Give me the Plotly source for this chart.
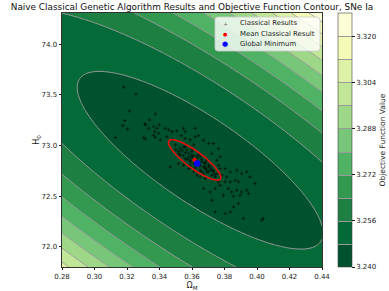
import numpy as np
import plotly.graph_objects as go

# ---------------- values ----------------
# objective function surface (quadratic model fitted to the drawn contours)
obj_min_value = 3.2438
obj_center_om = 0.3650
obj_center_h0 = 72.855
coef_om_om = 2.2424
coef_om_h0 = 0.31688
coef_h0_h0 = 0.016644

om_range = [0.28, 0.44]
h0_range = [71.80, 74.31]

level_start = 3.248
level_end = 3.320
level_step = 0.008
cbar_range = [3.240, 3.328]
cbar_ticks = [3.240, 3.256, 3.272, 3.288, 3.304, 3.320]
x_ticks = [0.28, 0.30, 0.32, 0.34, 0.36, 0.38, 0.40, 0.42, 0.44]
y_ticks = [72.0, 72.5, 73.0, 73.5, 74.0]

# classical GA results (one point per run)
classical_om = [
    0.3180, 0.3255, 0.3215, 0.3374, 0.3186, 0.3174, 0.3204, 0.3309, 0.3339, 0.3315,
    0.3333, 0.3364, 0.3384, 0.3399, 0.3370, 0.3395, 0.3436, 0.3456, 0.3477, 0.3507,
    0.3548, 0.3558, 0.3620, 0.3129, 0.3313, 0.3374, 0.3405, 0.3446, 0.3477, 0.3534,
    0.3558, 0.3589, 0.3620, 0.3640, 0.3303, 0.3364, 0.3497, 0.3528, 0.3558, 0.3518,
    0.3569, 0.3610,
    0.3548, 0.3579, 0.3599, 0.3528, 0.3558, 0.3589, 0.3630, 0.3650, 0.3661, 0.3681,
    0.3691, 0.3640, 0.3671, 0.3702, 0.3712, 0.3732, 0.3691, 0.3722, 0.3743, 0.3753,
    0.3610, 0.3589, 0.3650, 0.3681,
    0.3671, 0.3702, 0.3732, 0.3763, 0.3722, 0.3773, 0.3753, 0.3763, 0.3804, 0.3773,
    0.3650, 0.3681, 0.3630, 0.3610, 0.3579, 0.3548, 0.3517, 0.3466,
    0.3784, 0.3814, 0.3835, 0.3876, 0.3906, 0.3937, 0.3804, 0.3835, 0.3865, 0.3886,
    0.3957, 0.3773, 0.3824, 0.3876, 0.3906, 0.3845, 0.3743, 0.3712, 0.3671, 0.3794,
    0.3855, 0.3896, 0.3937, 0.3722, 0.3763,
    0.3988, 0.3947, 0.4029, 0.4039, 0.3916, 0.3835, 0.3743, 0.3804, 0.3886, 0.3855,
    0.3560, 0.3540, 0.3600, 0.3620, 0.3660, 0.3640, 0.3700, 0.3680, 0.3720, 0.3580,
    0.3600, 0.3500, 0.3520, 0.3650, 0.3700, 0.3740, 0.3670, 0.3620, 0.3590, 0.3610,
    0.3570, 0.3630, 0.3690, 0.3710, 0.3660, 0.3550, 0.3600, 0.3680, 0.3730, 0.3640,
]
classical_h0 = [
    73.576, 73.510, 73.342, 73.312, 73.246, 73.197, 73.164, 73.214, 73.253, 73.204,
    73.171, 73.187, 73.171, 73.204, 73.138, 73.121, 73.171, 73.154, 73.138, 73.144,
    73.171, 73.138, 73.171, 73.079, 73.065, 73.079, 73.056, 73.088, 73.056, 73.098,
    73.072, 73.056, 73.088, 73.098, 73.079, 73.102, 73.006, 72.973, 72.990, 72.940,
    72.957, 73.006,
    72.904, 72.888, 72.904, 72.904, 72.871, 72.855, 72.871, 72.888, 72.838, 72.822,
    72.855, 72.805, 72.789, 72.789, 72.756, 72.740, 72.740, 72.707, 72.690, 72.723,
    72.822, 72.805, 72.756, 72.773,
    73.052, 73.019, 73.019, 72.970, 72.921, 72.888, 72.855, 72.805, 72.773, 72.773,
    72.690, 72.674, 72.707, 72.740, 72.773, 72.805, 72.822, 72.789,
    72.707, 72.690, 72.740, 72.756, 72.723, 72.740, 72.641, 72.641, 72.657, 72.641,
    72.690, 72.608, 72.575, 72.559, 72.542, 72.542, 72.575, 72.542, 72.575, 72.509,
    72.499, 72.509, 72.559, 72.460, 72.641,
    72.624, 72.526, 72.262, 72.279, 72.279, 72.345, 72.345, 72.328, 72.427, 72.394,
    72.930, 72.950, 72.880, 72.850, 72.860, 72.830, 72.810, 72.790, 72.770, 72.920,
    72.940, 72.960, 72.920, 72.800, 72.740, 72.710, 72.720, 72.780, 72.840, 72.900,
    72.865, 72.895, 72.765, 72.795, 72.745, 72.985, 72.965, 72.835, 72.750, 72.910,
]

mean_om, mean_h0 = 0.3616, 72.858
best_om, best_h0 = 0.3632, 72.822

# 1-sigma ellipse of the classical results (centre = mean)
ell_major_om, ell_major_h0 = 0.01584, -0.1895
ell_minor_om, ell_minor_h0 = 0.00311, 0.0672

legend_labels = ["Classical Results", "Mean Classical Result", "Global Minimum"]

# ---------------- styles ----------------
band_colors = ["#00522e", "#036a38", "#1d7f41", "#339951", "#50b265", "#78c679",
               "#9ed788", "#c1e698", "#def2a7", "#f4fbb7", "#fcfed5"]
FONT = "DejaVu Sans"
TXT = "#1a1a1a"

# ---------------- build ----------------
om = np.linspace(om_range[0], om_range[1], 161)
h0 = np.linspace(h0_range[0], h0_range[1], 161)
OM, H0 = np.meshgrid(om, h0)
dO = OM - obj_center_om
dH = H0 - obj_center_h0
Z = obj_min_value + coef_om_om * dO**2 + coef_om_h0 * dO * dH + coef_h0_h0 * dH**2

n = len(band_colors)
colorscale = [[i / (n - 1), c] for i, c in enumerate(band_colors)]

t = np.linspace(0, 2 * np.pi, 200)
ell_x = mean_om + ell_major_om * np.cos(t) + ell_minor_om * np.sin(t)
ell_y = mean_h0 + ell_major_h0 * np.cos(t) + ell_minor_h0 * np.sin(t)

fig = go.Figure()
fig.add_trace(go.Contour(
    x=om, y=h0, z=Z,
    autocontour=False,
    contours=dict(start=level_start, end=level_end, size=level_step, coloring="fill"),
    colorscale=colorscale, zauto=False, zmin=cbar_range[0], zmax=cbar_range[1],
    line=dict(color="rgba(155,155,155,1)", width=1),
    showlegend=False,
    hoverinfo="skip",
    colorbar=dict(
        x=(338 - 62) / 260, xanchor="left", xpad=0, y=0.5, yanchor="middle", ypad=0,
        len=1.0, lenmode="fraction", thickness=14,
        tickvals=cbar_ticks, tickformat=".3f", ticks="outside", ticklen=3,
        tickcolor=TXT,
        tickfont=dict(size=7, family=FONT, color=TXT),
        outlinewidth=0.6, outlinecolor="#444",
        title=dict(text="Objective Function Value", side="right",
                   font=dict(size=7.5, family=FONT, color=TXT)),
    ),
))
fig.add_trace(go.Scatter(
    x=classical_om, y=classical_h0, mode="markers", name=legend_labels[0],
    showlegend=False, hoverinfo="skip",
    marker=dict(symbol="cross-thin", size=2.6, color="rgba(0,0,0,0.6)",
                line=dict(width=0.9, color="rgba(0,0,0,0.6)")),
))
fig.add_trace(go.Scatter(
    x=ell_x, y=ell_y, mode="lines", line=dict(color="#e8110f", width=1.6),
    showlegend=False, hoverinfo="skip",
))
fig.add_trace(go.Scatter(
    x=[mean_om], y=[mean_h0], mode="markers", name=legend_labels[1],
    showlegend=False, hoverinfo="skip", marker=dict(size=4.5, color="red"),
))
fig.add_trace(go.Scatter(
    x=[best_om], y=[best_h0], mode="markers", name=legend_labels[2],
    showlegend=False, hoverinfo="skip", marker=dict(size=6.5, color="blue"),
))

# ---- compact legend box (paper coordinates of the plot area) ----
def px_x(p):
    return (p - 62) / 260


def px_y(p):
    return 1 - (p - 13) / 254


bx0, bx1, by0, by1 = px_x(215), px_x(320), px_y(51), px_y(17)
rx, ry_ = 3 / 260, 3 / 254
box_path = (f"M {bx0 + rx},{by1} L {bx1 - rx},{by1} Q {bx1},{by1} {bx1},{by1 - ry_} "
            f"L {bx1},{by0 + ry_} Q {bx1},{by0} {bx1 - rx},{by0} "
            f"L {bx0 + rx},{by0} Q {bx0},{by0} {bx0},{by0 + ry_} "
            f"L {bx0},{by1 - ry_} Q {bx0},{by1} {bx0 + rx},{by1} Z")
fig.add_shape(type="path", xref="paper", yref="paper", path=box_path,
              fillcolor="rgba(255,255,255,0.8)", line=dict(color="#cccccc", width=0.8))
row_y = [23.3, 34.0, 44.3]
sym = [("+", 6, "rgba(90,90,90,0.9)"), ("●", 5, "red"), ("●", 7, "blue")]
for (s, sz, col), ry, lab in zip(sym, row_y, legend_labels):
    fig.add_annotation(x=px_x(225), y=px_y(ry), xref="paper", yref="paper",
                       text=s, showarrow=False, xanchor="center", yanchor="middle",
                       font=dict(size=sz, color=col, family=FONT))
    fig.add_annotation(x=px_x(237.5), y=px_y(ry), xref="paper", yref="paper",
                       text=lab, showarrow=False, xanchor="left", yanchor="middle",
                       font=dict(size=6.9, color=TXT, family=FONT))

fig.update_layout(
    width=389, height=291,
    margin=dict(l=62, r=67, t=13, b=24, autoexpand=False),
    paper_bgcolor="white", plot_bgcolor="white",
    font=dict(family=FONT, size=7, color=TXT),
    showlegend=False,
    title=dict(text="Naive Classical Genetic Algorithm Results and Objective Function Contour, SNe Ia",
               x=0.5, xref="paper", xanchor="center", y=1 - 7 / 291, yref="container",
               yanchor="middle", font=dict(size=8.9, family=FONT, color="#111")),
    xaxis=dict(range=om_range, tickvals=x_ticks, tickformat=".2f", ticks="outside",
               ticklen=2.5, tickcolor=TXT, showgrid=False, zeroline=False,
               showline=True, linecolor="#333", linewidth=0.8, mirror=True,
               title=dict(text="Ω<sub>M</sub>", font=dict(size=8, family=FONT), standoff=2),
               tickfont=dict(size=7, family=FONT)),
    yaxis=dict(range=h0_range, tickvals=y_ticks, tickformat=".1f", ticks="outside",
               ticklen=2.5, tickcolor=TXT, showgrid=False, zeroline=False,
               showline=True, linecolor="#333", linewidth=0.8, mirror=True,
               title=dict(text="H<sub>0</sub>", font=dict(size=8, family=FONT), standoff=0),
               tickfont=dict(size=7, family=FONT)),
)

fig.write_html("out.html", config={"displayModeBar": False},
               post_script="document.body.style.margin='0';")
